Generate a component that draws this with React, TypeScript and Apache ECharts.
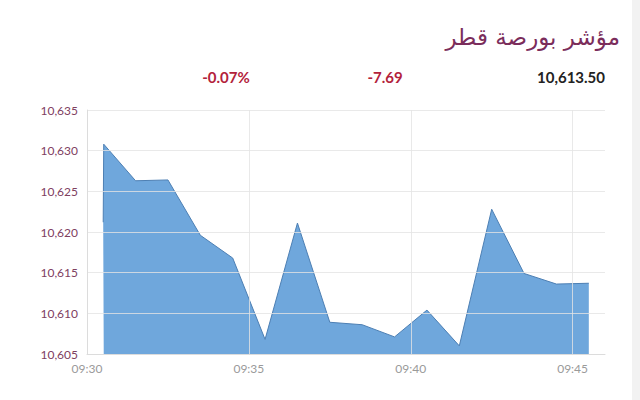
import React, { useEffect, useRef } from "react";
import * as echarts from "echarts";

const titleText = "مؤشر بورصة قطر";
const changePct = "-0.07%";
const changeAbs = "-7.69";
const lastValue = "10,613.50";

const times = [
  "09:30:30", "09:30:31", "09:31:30", "09:32:30", "09:33:30", "09:34:30",
  "09:35:30", "09:36:30", "09:37:30", "09:38:30", "09:39:30", "09:40:30",
  "09:41:30", "09:42:30", "09:43:30", "09:44:30", "09:45:30",
];
const values = [
  10621.2, 10630.8, 10626.3, 10626.4, 10619.6, 10616.8,
  10606.8, 10621.1, 10608.9, 10608.6, 10607.1, 10610.4,
  10606.0, 10622.8, 10614.9, 10613.6, 10613.7,
];
const xTickLabels = ["09:30", "09:35", "09:40", "09:45"];

const startMinutes = 9 * 60 + 30;
function toMinutes(t: string): number {
  const [h, m, s] = t.split(":").map(Number);
  return h * 60 + m + s / 60 - startMinutes;
}

export default function App() {
  const ref = useRef<HTMLDivElement>(null);
  useEffect(() => {
    document.body.style.margin = "0";
    const chart = echarts.init(ref.current!, undefined, { renderer: "svg" });
    const data = times.map((t, i) => [toMinutes(t), values[i]]);
    const grid = "#e4e4e4";
    chart.setOption({
      animation: false,
      backgroundColor: "#ffffff",
      grid: { left: 87, right: 35, top: 110, bottom: 46, containLabel: false },
      xAxis: {
        type: "value",
        min: 0,
        max: 16,
        interval: 5,
        z: 3,
        axisLine: { show: true, lineStyle: { color: "#dcdcdc" } },
        axisTick: { show: false },
        splitLine: {
          show: true,
          lineStyle: { color: [grid, grid, grid, grid, "rgba(0,0,0,0)"], opacity: 0.8 },
        },
        axisLabel: {
          color: "#9a9a9a",
          fontSize: 12,
          fontFamily: "Lato",
          margin: 8,
          formatter: (v: number) => (v % 5 === 0 ? xTickLabels[v / 5] ?? "" : ""),
        },
      },
      yAxis: {
        type: "value",
        min: 10605,
        max: 10635,
        interval: 5,
        z: 3,
        axisLine: { show: true, lineStyle: { color: "#dcdcdc" } },
        axisTick: { show: false },
        splitLine: { show: true, lineStyle: { color: grid, opacity: 0.8 } },
        axisLabel: {
          color: "#80405f",
          fontSize: 12,
          fontFamily: "Lato",
          margin: 9,
          formatter: (v: number) => v.toLocaleString("en-US"),
        },
      },
      series: [
        {
          type: "line",
          data,
          symbol: "none",
          z: 2,
          lineStyle: { color: "#4d7fb3", width: 1 },
          areaStyle: { color: "#6fa7dc", opacity: 1, origin: "start" },
        },
      ],
      graphic: [
        {
          type: "rect",
          shape: { x: 632, y: 0, width: 8, height: 400 },
          style: { fill: "#f2f2f2" },
        },
        {
          type: "text",
          x: 620,
          y: 37,
          style: {
            text: titleText,
            fill: "#7b2d5b",
            fontSize: 23,
            fontFamily: "DejaVu Sans",
            align: "right",
            verticalAlign: "middle",
          },
        },
        {
          type: "text",
          x: 226,
          y: 77,
          style: {
            text: changePct,
            fill: "#b3223b",
            fontSize: 15,
            fontWeight: 700,
            fontFamily: "Lato",
            align: "center",
            verticalAlign: "middle",
          },
        },
        {
          type: "text",
          x: 385,
          y: 77,
          style: {
            text: changeAbs,
            fill: "#b3223b",
            fontSize: 15,
            fontWeight: 700,
            fontFamily: "Lato",
            align: "center",
            verticalAlign: "middle",
          },
        },
        {
          type: "text",
          x: 571,
          y: 77,
          style: {
            text: lastValue,
            fill: "#222222",
            fontSize: 15,
            fontWeight: 700,
            fontFamily: "Lato",
            align: "center",
            verticalAlign: "middle",
          },
        },
      ],
    });
    return () => chart.dispose();
  }, []);
  return <div ref={ref} style={{ width: 640, height: 400 }} />;
}
